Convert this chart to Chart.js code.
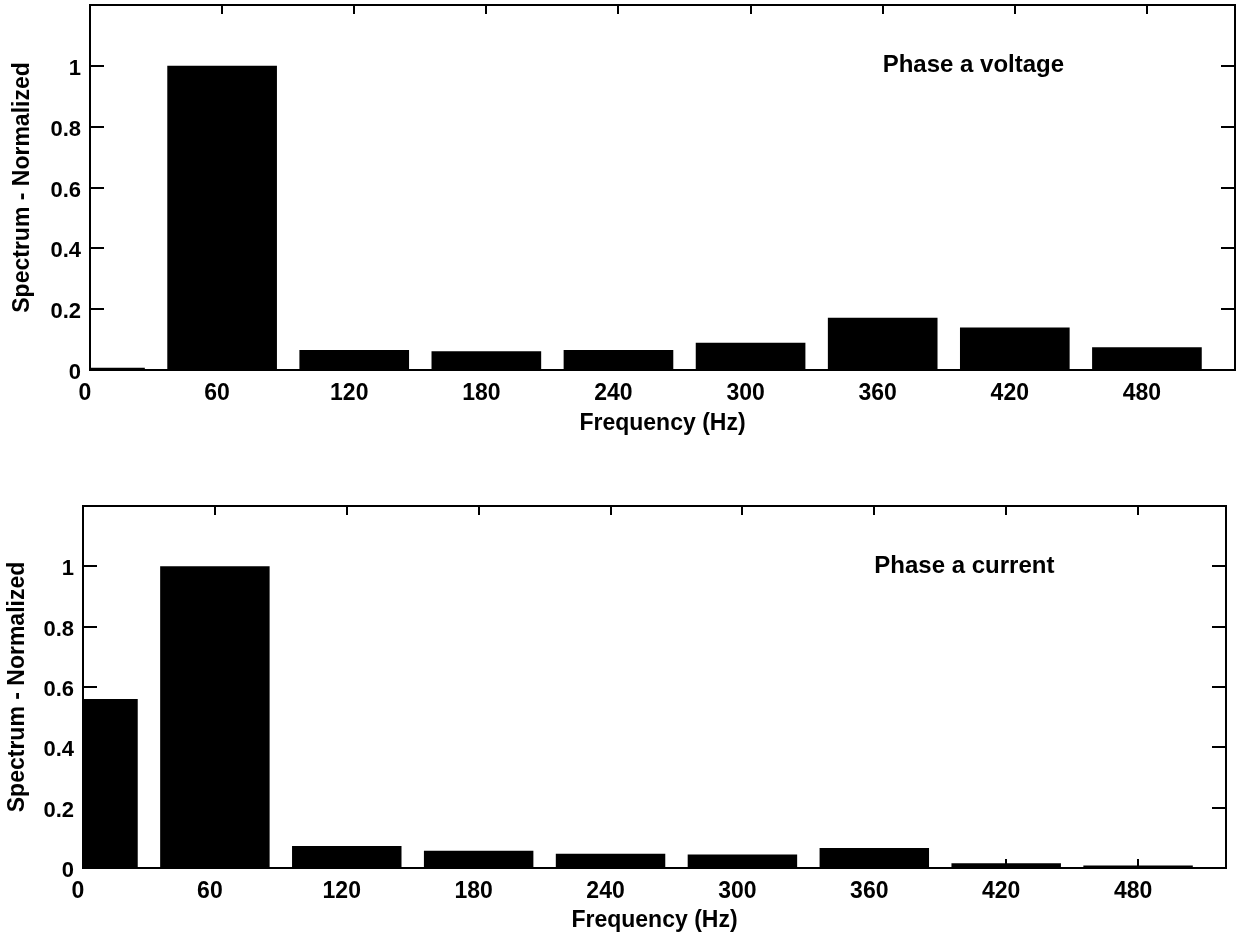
<!DOCTYPE html>
<html>
<head>
<meta charset="utf-8">
<title>Phase a spectrum</title>
<script src="https://cdn.jsdelivr.net/npm/chart.js@4.4.1/dist/chart.umd.min.js"></script>
<style>
  html, body { margin: 0; padding: 0; background: #fff; }
  #wrap { position: relative; width: 1248px; height: 940px; }
  canvas { position: absolute; left: 0; }
</style>
</head>
<body>
<div id="wrap">
  <canvas id="voltageChart" width="1248" height="460" style="top:0"></canvas>
  <canvas id="currentChart" width="1248" height="480" style="top:460px"></canvas>
</div>
<script>
// harmonic bins (Hz) and normalized spectrum magnitudes
const freqs = [0, 60, 120, 180, 240, 300, 360, 420, 480];
const voltageSpectrum = [0.007, 1.0, 0.066, 0.062, 0.066, 0.09, 0.172, 0.14, 0.075];
const currentSpectrum = [0.56, 1.0, 0.073, 0.057, 0.047, 0.045, 0.066, 0.016, 0.008];

const xTicks = [0, 60, 120, 180, 240, 300, 360, 420, 480];
const yTicks = [0, 0.2, 0.4, 0.6, 0.8, 1];
const xRange = [0, 520];
const yRange = [0, 1.2];

Chart.defaults.font.family = '"Liberation Sans", Arial, Helvetica, sans-serif';
Chart.defaults.color = '#000';

// text placed at data coordinates inside the plot
const phaseLabel = {
    id: 'phaseLabel',
    afterDatasetsDraw(chart, args, opts) {
        const { ctx, scales } = chart;
        ctx.save();
        ctx.font = 'bold 24px "Liberation Sans", Arial, sans-serif';
        ctx.fillStyle = '#000';
        ctx.textAlign = 'left';
        ctx.textBaseline = 'middle';
        ctx.fillText(opts.text, scales.x.getPixelForValue(opts.x), scales.y.getPixelForValue(opts.y));
        ctx.restore();
    }
};

function setTicks(list) {
    return scale => { scale.ticks = list.map(v => ({ value: v })); };
}

// fixed axis size, and no extra room asked for the end labels
function fixSize(prop, size) {
    return scale => {
        scale[prop] = size;
        scale.paddingTop = scale.paddingBottom = 0;
        scale.paddingLeft = scale.paddingRight = 0;
    };
}

// box = plot area edges inside the canvas, plus where the axis titles sit
function spectrumChart(id, values, label, box) {
    const canvas = document.getElementById(id);
    const xAxisHeight = canvas.height - box.bottom;
    const frame = { display: true, color: '#000', width: 2 };
    const marks = { display: true, drawOnChartArea: false, drawTicks: true, color: '#000', lineWidth: 2, offset: false };
    const titleFont = { size: 23, weight: 'bold' };

    return new Chart(canvas, {
        type: 'bar',
        data: {
            datasets: [{
                data: freqs.map((f, i) => ({ x: f, y: values[i] })),
                backgroundColor: '#000',
                borderWidth: 0,
                barPercentage: 0.83,
                categoryPercentage: 1,
                clip: 0
            }]
        },
        options: {
            responsive: false,
            animation: false,
            devicePixelRatio: 1,
            layout: { padding: { top: box.top, right: canvas.width - box.right, left: 0, bottom: 0 } },
            plugins: {
                legend: { display: false },
                tooltip: { enabled: false },
                phaseLabel: { text: label, x: 360, y: 1 }
            },
            scales: {
                x: {
                    type: 'linear', position: 'bottom',
                    min: xRange[0], max: xRange[1], offset: false,
                    afterBuildTicks: setTicks(xTicks),
                    afterFit: fixSize('height', xAxisHeight),
                    grid: { ...marks, tickLength: -9 },
                    border: frame,
                    ticks: {
                        font: { size: 23, weight: 'bold' },
                        padding: 19, labelOffset: -5,
                        maxRotation: 0, autoSkip: false,
                        callback: v => String(v)
                    },
                    title: {
                        display: true, text: 'Frequency (Hz)', font: titleFont,
                        padding: { top: 0, bottom: xAxisHeight - box.xTitle - 13.8 }
                    }
                },
                x2: {
                    type: 'linear', position: 'top', axis: 'x',
                    min: xRange[0], max: xRange[1], offset: false,
                    afterBuildTicks: setTicks(xTicks),
                    afterFit: fixSize('height', 0),
                    grid: { ...marks, tickLength: -9 },
                    border: frame,
                    ticks: { display: false }
                },
                y: {
                    type: 'linear', position: 'left',
                    min: yRange[0], max: yRange[1],
                    afterBuildTicks: setTicks(yTicks),
                    afterFit: fixSize('width', box.left),
                    grid: { ...marks, tickLength: -14 },
                    border: frame,
                    ticks: {
                        font: { size: 22, weight: 'bold' },
                        padding: 23, labelOffset: 3,
                        callback: v => String(v)
                    },
                    title: {
                        display: true, text: 'Spectrum - Normalized', font: titleFont,
                        padding: { top: box.yTitle - 13.8, bottom: 0 }
                    }
                },
                y2: {
                    type: 'linear', position: 'right', axis: 'y',
                    min: yRange[0], max: yRange[1],
                    afterBuildTicks: setTicks(yTicks),
                    afterFit: fixSize('width', 0),
                    grid: { ...marks, tickLength: -14 },
                    border: frame,
                    ticks: { display: false }
                }
            }
        },
        plugins: [phaseLabel]
    });
}

spectrumChart('voltageChart', voltageSpectrum, 'Phase a voltage',
    { left: 90, top: 5, right: 1235, bottom: 370, xTitle: 54, yTitle: 23 });

spectrumChart('currentChart', currentSpectrum, 'Phase a current',
    { left: 83, top: 46, right: 1226, bottom: 408, xTitle: 53, yTitle: 17.5 });
</script>
</body>
</html>
